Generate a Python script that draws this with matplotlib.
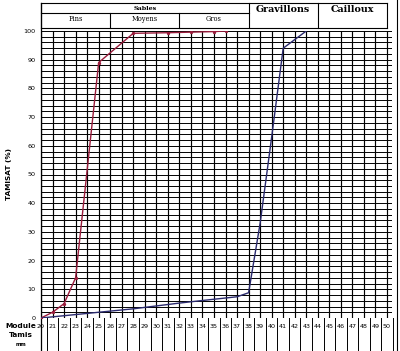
import matplotlib
matplotlib.use("Agg")
import matplotlib.pyplot as plt
import matplotlib.transforms as mtransforms
from matplotlib.lines import Line2D

# ---- data ----
modules = list(range(20, 51))
yticks = [0, 10, 20, 30, 40, 50, 60, 70, 80, 90, 100]

sable_module = [20, 21, 22, 23, 25, 28, 31, 33, 35, 36]
sable_pct = [0, 2, 5, 14, 89, 99.2, 99.4, 99.6, 99.8, 100]

gravier_module = [20, 24, 28, 32, 34, 37, 38, 39, 40, 41, 43]
gravier_pct = [0, 1.6, 3.2, 5.2, 6.1, 7.4, 8.8, 33, 63, 94, 100]

header_top = ["Sables", "Gravillons", "Cailloux"]
header_top_bounds = [(20, 38), (38, 44), (44, 50)]
header_sub = ["Fins", "Moyens", "Gros"]
header_sub_bounds = [(20, 26), (26, 32), (32, 38)]

W, H = 400, 351
fig = plt.figure(figsize=(W / 100, H / 100), dpi=100)
left_px, right_px, top_px, bot_px = 41, 391.6, 31, 318
ax = fig.add_axes([left_px / W, 1 - bot_px / H, (right_px - left_px) / W, (bot_px - top_px) / H])
ax.set_xlim(20, 50.4)
ax.set_ylim(0, 100)

# grid
for m in modules:
    ax.axvline(m, color="black", lw=0.85, zorder=1)
for y in range(0, 101, 2):
    ax.axhline(y, color="black", lw=0.7, zorder=1)

ax.plot(sable_module, sable_pct, color="#9a1c3c", lw=1.0, marker="o", ms=1.4, zorder=3)
ax.plot(gravier_module, gravier_pct, color="#2a2a6e", lw=1.0, zorder=3)

for s in ax.spines.values():
    s.set_visible(False)
ax.set_xticks([])
ax.set_yticks(yticks)
ax.set_yticklabels([str(v) for v in yticks], fontsize=4.6, family="DejaVu Sans")
ax.tick_params(axis="y", length=0, pad=4)
ax.set_ylabel("TAMISAT (%)", fontsize=5.2, fontweight="bold", labelpad=8)

trans = mtransforms.blended_transform_factory(ax.transData, ax.transAxes)
px2ax = lambda py: (bot_px - py) / (bot_px - top_px)
h_top, h_mid, h_bot = px2ax(3), px2ax(13), px2ax(28)

def line(x0, x1, y0, y1, lw=0.8):
    ax.add_line(Line2D([x0, x1], [y0, y1], transform=trans, color="black", lw=lw, clip_on=False))

# header
line(20, 50, h_top, h_top)
line(20, 50, h_bot, h_bot)
line(20, 38, h_mid, h_mid)
for b in [20, 38, 44, 50]:
    line(b, b, h_top, h_bot)
for b in [26, 32]:
    line(b, b, h_mid, h_bot)
for lab, (a, b) in zip(header_top, header_top_bounds):
    if lab == "Sables":
        ax.text((a + b) / 2, (h_top + h_mid) / 2, lab, transform=trans, ha="center", va="center",
                fontsize=4.6, fontweight="bold", family="DejaVu Serif")
    else:
        ax.text((a + b) / 2, px2ax(10), lab, transform=trans, ha="center", va="center",
                fontsize=6.8, fontweight="bold", family="DejaVu Serif")
for lab, (a, b) in zip(header_sub, header_sub_bounds):
    ax.text((a + b) / 2, (h_mid + h_bot) / 2 + 0.004, lab, transform=trans, ha="center", va="center",
            fontsize=4.8, family="DejaVu Serif")

# bottom table
ybot = px2ax(351)
for m in modules:
    ax.text(m, px2ax(326), str(m), transform=trans, ha="center", va="center", fontsize=4.6)
for m in modules:
    line(m + 0.5, m + 0.5, 0, ybot, lw=0.7)
line(20, 20, h_top, ybot, lw=0.9)

fig.text(21 / W, 1 - 326 / H, "Module", ha="center", va="center", fontsize=5.3, fontweight="bold")
fig.text(21 / W, 1 - 335 / H, "Tamis", ha="center", va="center", fontsize=5.3, fontweight="bold")
fig.text(21 / W, 1 - 344 / H, "mm", ha="center", va="center", fontsize=3.8, fontweight="bold")

fig.add_artist(Line2D([397 / W, 397 / W], [0, 1], transform=fig.transFigure, color="black", lw=0.8))

fig.savefig("out.png", dpi=100)
